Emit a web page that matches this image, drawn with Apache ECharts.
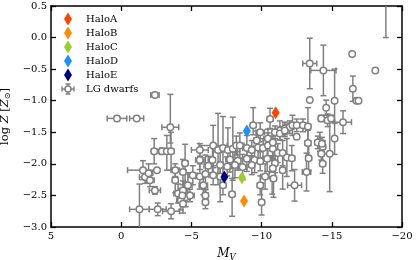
<!DOCTYPE html>
<html><head><meta charset="utf-8">
<script src="https://cdn.jsdelivr.net/npm/echarts@6/dist/echarts.min.js"></script>
<style>html,body{margin:0;padding:0;background:#fff}#c{width:416px;height:260px}</style>
</head><body><div id="c"></div>
<script>
// ---- data ----
const xTickValues = [5, 0, -5, -10, -15, -20];
const yTickValues = [-3.0, -2.5, -2.0, -1.5, -1.0, -0.5, 0.0, 0.5];
const haloNames = ['HaloA', 'HaloB', 'HaloC', 'HaloD', 'HaloE'];
const haloMV = [-11.0, -8.75, -8.6, -8.95, -7.35];
const haloLogZ = [-1.19, -2.59, -2.22, -1.48, -2.21];
const dwarfLabel = 'LG dwarfs';
// rows: [M_V, logZ, M_V error, logZ error low, logZ error high]
const lgDwarfs = [
  [0.3,-1.28,0.7,0.04,0.04],[-1.1,-1.28,0.5,0.03,0.03],[-2.4,-0.91,0.3,0.03,0.03],
  [-3.5,-1.42,0.6,0.25,0.52],[-2.35,-1.80,0.2,0.2,0.2],[-2.9,-1.80,0.2,0.05,0.05],
  [-3.25,-1.80,0.2,0.3,0.25],[-3.55,-1.80,0.2,0.3,0.3],[-1.55,-2.10,1.1,0.15,0.15],
  [-2.55,-2.10,0,0,0],[-1.7,-2.21,0.4,0.1,0.1],[-1.95,-2.15,0.3,0.15,0.15],
  [-2.05,-2.26,0.3,0.1,0.1],[-2.4,-2.42,0.4,0.06,0.06],[-1.3,-2.72,0.7,0.5,0.4],
  [-2.6,-2.72,0.6,0.1,0.1],[-3.55,-2.75,0.6,0.12,0.12],[-3.85,-2.10,0.3,0.1,0.1],
  [-4.55,-1.99,0.2,0.3,0.3],[-4.4,-2.13,0.2,0.2,0.2],[-3.85,-2.26,0.2,0.2,0.2],
  [-4.05,-2.47,0.3,0.15,0.15],[-4.4,-2.42,0.3,0.15,0.15],[-4.6,-2.53,0.3,0.15,0.15],
  [-4.25,-2.58,0.3,0.15,0.15],[-4.75,-2.34,0.3,0.2,0.2],
  [-5.6,-1.78,0.6,0.1,0.1],[-6.55,-1.71,1.0,0.35,0.32],[-6.9,-1.78,0.3,0.55,0.58],
  [-7.25,-1.75,0.2,0.5,0.5],[-7.6,-1.78,0.2,0.3,0.35],[-7.95,-1.76,0.3,0.5,0.5],
  [-8.2,-1.71,0.2,0.15,0.15],[-8.45,-1.71,0.3,0.2,0.2],[-8.95,-1.75,0.3,0.2,0.2],
  [-9.3,-1.78,0.2,0.15,0.15],[-9.75,-1.74,0.3,0.2,0.2],[-10.1,-1.75,0.2,0.15,0.15],
  [-10.45,-1.71,0.3,0.2,0.2],[-10.8,-1.76,0.2,0.15,0.15],
  [-5.6,-1.94,0.3,0.15,0.15],[-6.5,-1.94,0.2,0.2,0.2],[-7.75,-1.93,0.3,0.2,0.2],
  [-8.3,-1.95,0.2,0.15,0.15],[-8.95,-1.92,0.3,0.2,0.2],[-9.5,-1.94,0.2,0.2,0.2],
  [-9.9,-1.96,0.2,0.15,0.15],[-10.4,-1.92,0.3,0.2,0.2],
  [-6.2,-2.03,0.3,0.15,0.15],[-7.05,-2.02,0.2,0.2,0.2],[-7.55,-2.04,0.3,0.15,0.15],
  [-8.1,-2.02,0.2,0.2,0.2],[-8.65,-2.05,0.3,0.2,0.2],[-9.3,-2.02,0.2,0.15,0.15],
  [-5.1,-2.18,0.3,0.15,0.15],[-5.6,-2.20,0.3,0.2,0.2],[-6.0,-2.16,0.2,0.3,0.3],
  [-6.55,-2.18,0.3,0.15,0.15],[-7.05,-2.20,0.2,0.4,0.2],[-10.25,-2.20,0.3,0.2,0.2],
  [-10.75,-2.18,0.2,0.3,0.3],[-5.85,-2.34,0.3,0.15,0.15],[-7.25,-2.34,0.2,0.15,0.15],
  [-4.35,-2.50,0.3,0.1,0.1],[-4.9,-2.50,0.3,0.1,0.1],[-6.0,-2.50,0.2,0.1,0.1],
  [-7.9,-2.48,0.2,0.35,0.25],[-6.0,-2.61,0.2,0.1,0.2],[-10.0,-2.61,0.2,0.2,0.3],
  [-4.4,-2.63,0.2,0.15,0.15],
  [-9.4,-1.39,0.2,0.15,0.28],[-10.6,-1.29,0.2,0.15,0.17],[-9.9,-1.50,0.3,0.15,0.15],
  [-9.65,-1.63,0.2,0.15,0.15],[-10.45,-1.60,0.3,0.15,0.15],[-10.8,-1.66,0.2,0.1,0.1],
  [-11.3,-1.47,0.3,0.15,0.15],[-11.65,-1.44,0.3,0.1,0.1],[-12.0,-1.42,0.3,0.1,0.1],
  [-12.2,-1.39,0.3,0.16,0.16],[-12.5,-1.39,0.4,0.1,0.1],[-12.95,-1.39,0.3,0.1,0.1],
  [-13.3,-1.41,0.2,0.3,0.3],[-12.5,-1.57,0,0,0],[-13.3,-1.67,0.2,0.2,0.2],
  [-13.35,-1.91,0.2,0.2,0.2],[-13.2,-2.13,0.3,0.3,0.3],[-13.43,-0.99,0,0,0],
  [-15.2,-1.0,0,0.35,0.5],[-14.6,-1.11,0,0.12,0.12],[-14.25,-1.28,0.2,0.05,0.05],
  [-14.7,-1.31,0.2,0.1,0.1],[-14.95,-1.28,0.2,0.05,0.05],[-15.8,-1.34,0.6,0.18,0.18],
  [-15.2,-1.60,0,0.25,0.25],[-14.15,-1.65,0.2,0.15,0.15],[-14.35,-1.73,0.2,0.1,0.1],
  [-14.25,-1.84,0.2,0.1,0.1],[-14.35,-2.0,0.2,0.15,0.15],[-14.85,-1.84,0,0.6,0.6],
  [-13.43,-0.41,0.5,0.4,0.4],[-14.4,-0.52,0.9,0.4,0.4],[-16.45,-0.26,0,0,0],
  [-18.1,-0.52,0,0,0],[-16.5,-0.81,0,0.2,0.2],[-16.75,-1.0,0,0,0],[-16.9,-1.0,0,0,0],
  [-18.85,0.8,0,0.8,0],
  [-11.15,-1.83,0.2,0.15,0.15],[-11.5,-1.83,0.2,0.2,0.2],[-11.8,-1.90,0.2,0.3,0.3],
  [-12.15,-1.91,0.2,0.2,0.2],[-10.95,-1.99,0.2,0.15,0.15],[-10.8,-2.07,0.2,0.2,0.2],
  [-11.5,-2.10,0.2,0.3,0.3],[-12.35,-2.34,0.5,0.25,0.25],[-10.85,-2.23,0.2,0.3,0.3],
  [-9.9,-2.34,0.2,0.15,0.15],[-10.95,-1.50,0.2,0.1,0.1],[-11.3,-1.52,0.2,0.1,0.1],
  [-11.65,-1.47,0.2,0.1,0.1],[-14.0,-1.66,0.2,0.1,0.1],[-14.3,-1.68,0.2,0.1,0.1]
];

// ---- styles ----
const haloColors = ['#ff4500', '#ff8c00', '#9acd32', '#1e90ff', '#000080'];
const GRAY = '#808080';
const FONT = '"DejaVu Serif", serif';
const minus = s => String(s).replace('-', '\u2212');

const chart = echarts.init(document.getElementById('c'), null, {renderer: 'canvas'});

const axisCommon = {
  type: 'value', splitLine: {show: false},
  axisLine: {show: true, onZero: false, lineStyle: {color: '#000', width: 1.5}},
  axisTick: {show: true, inside: true, length: 5, lineStyle: {color: '#000', width: 1.3}},
  nameTextStyle: {color: '#000'}
};

const xAxisBase = Object.assign({}, axisCommon, {
  min: xTickValues[xTickValues.length - 1], max: xTickValues[0], interval: 5, inverse: true
});
const yAxisBase = Object.assign({}, axisCommon, {
  min: yTickValues[0], max: yTickValues[yTickValues.length - 1], interval: 0.5
});

function renderErr(params, api) {
  const mv = api.value(0), z = api.value(1), ex = api.value(2), elo = api.value(3), ehi = api.value(4);
  const style = {stroke: GRAY, lineWidth: 1.5};
  const cap = 3;
  const ch = [];
  const ln = (x1, y1, x2, y2) => ch.push({type: 'line', shape: {x1, y1, x2, y2}, style});
  if (ex > 0) {
    const a = api.coord([mv - ex, z]), b = api.coord([mv + ex, z]);
    ln(a[0], a[1], b[0], b[1]);
    ln(a[0], a[1] - cap, a[0], a[1] + cap);
    ln(b[0], b[1] - cap, b[0], b[1] + cap);
  }
  if (elo > 0 || ehi > 0) {
    const a = api.coord([mv, z - elo]), b = api.coord([mv, z + ehi]);
    ln(a[0], a[1], b[0], b[1]);
    if (elo > 0) ln(a[0] - cap, a[1], a[0] + cap, a[1]);
    if (ehi > 0) ln(b[0] - cap, b[1], b[0] + cap, b[1]);
  }
  return {type: 'group', children: ch};
}

const series = [
  {
    type: 'custom', name: dwarfLabel + ' err', data: lgDwarfs, encode: {x: 0, y: 1},
    renderItem: renderErr, clip: true, z: 2, silent: true
  },
  {
    type: 'scatter', name: dwarfLabel, data: lgDwarfs.map(r => [r[0], r[1]]),
    symbol: 'circle', symbolSize: 6.5, clip: true, z: 3,
    itemStyle: {color: '#fff', borderColor: GRAY, borderWidth: 1.5, opacity: 1}
  }
];
haloNames.forEach((n, i) => {
  series.push({
    type: 'scatter', name: n, data: [[haloMV[i], haloLogZ[i]]],
    symbol: 'diamond', symbolSize: [8, 13], z: 5,
    itemStyle: {color: haloColors[i], opacity: 1}
  });
});

// legend drawn as graphic
const graphics = [];
const lgX = 68, lgY0 = 19, lgStep = 14, txtX = 86;
haloNames.forEach((n, i) => {
  const yc = lgY0 + lgStep * i;
  graphics.push({type: 'polygon', shape: {points: [[lgX, yc - 6.5], [lgX + 4, yc], [lgX, yc + 6.5], [lgX - 4, yc]]},
    style: {fill: haloColors[i]}, z: 100});
  graphics.push({type: 'text', x: txtX, y: yc, style: {text: n, font: '10px ' + FONT, fill: '#000', verticalAlign: 'middle'}, z: 100});
});
{
  const yc = lgY0 + lgStep * haloNames.length;
  const st = {stroke: GRAY, lineWidth: 1.5};
  const segs = [[lgX - 6, yc, lgX - 3, yc], [lgX + 3, yc, lgX + 6, yc], [lgX, yc - 5, lgX, yc - 3], [lgX, yc + 3, lgX, yc + 5],
    [lgX - 6, yc - 2.5, lgX - 6, yc + 2.5], [lgX + 6, yc - 2.5, lgX + 6, yc + 2.5], [lgX - 2.5, yc - 5, lgX + 2.5, yc - 5], [lgX - 2.5, yc + 5, lgX + 2.5, yc + 5]];
  segs.forEach(s => graphics.push({type: 'line', shape: {x1: s[0], y1: s[1], x2: s[2], y2: s[3]}, style: st, z: 100}));
  graphics.push({type: 'circle', shape: {cx: lgX, cy: yc, r: 3}, style: {fill: '#fff', stroke: GRAY, lineWidth: 1.5}, z: 100});
  graphics.push({type: 'text', x: txtX, y: yc, style: {text: dwarfLabel, font: '10px ' + FONT, fill: '#000', verticalAlign: 'middle'}, z: 100});
}

const option = {
  animation: false,
  backgroundColor: '#fff',
  grid: {left: 51, right: 14, top: 6, bottom: 33, containLabel: false, outerBoundsMode: 'none'},
  xAxis: [
    Object.assign({}, xAxisBase, {
      position: 'bottom',
      axisLabel: {color: '#000', fontFamily: FONT, fontSize: 10, margin: 4, formatter: v => minus(v)},
      name: '{i|M}{s|V}', nameLocation: 'middle', nameGap: 11,
      nameTextStyle: {rich: {
        i: {fontFamily: FONT, fontStyle: 'italic', fontSize: 12, color: '#000', lineHeight: 16},
        s: {fontFamily: FONT, fontStyle: 'italic', fontSize: 8.5, color: '#000', lineHeight: 16, padding: [7, 0, 0, 0]}
      }}
    }),
    Object.assign({}, xAxisBase, {position: 'top', axisLabel: {show: false}})
  ],
  yAxis: [
    Object.assign({}, yAxisBase, {
      position: 'left',
      axisLabel: {color: '#000', fontFamily: FONT, fontSize: 10, margin: 4, formatter: v => minus(v.toFixed(1))},
      name: '{n|log }{i|Z}{n| [}{i|Z}{s|\u2299}{n|]}', nameLocation: 'middle', nameGap: 30, nameRotate: 90,
      nameTextStyle: {rich: {
        n: {fontFamily: FONT, fontSize: 11.5, color: '#000', lineHeight: 16},
        i: {fontFamily: FONT, fontStyle: 'italic', fontSize: 11.5, color: '#000', lineHeight: 16},
        s: {fontFamily: FONT, fontSize: 8, color: '#000', lineHeight: 16, padding: [6, 0, 0, 0]}
      }}
    }),
    Object.assign({}, yAxisBase, {position: 'right', axisLabel: {show: false}})
  ],
  graphic: graphics,
  series: series
};
chart.setOption(option);
</script>
</body></html>
